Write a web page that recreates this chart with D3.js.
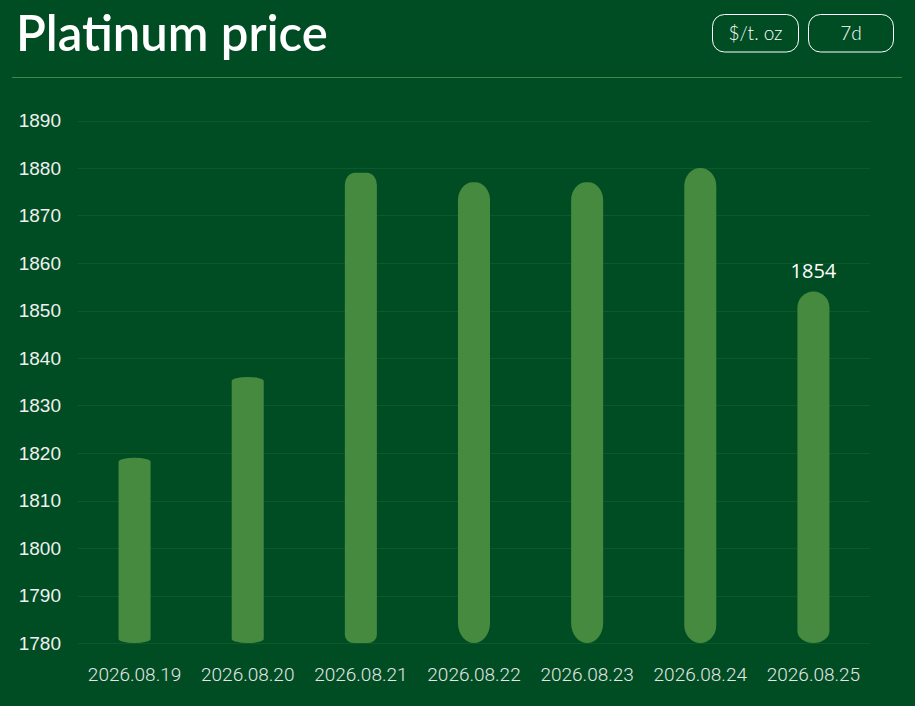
<!DOCTYPE html>
<html><head><meta charset="utf-8">
<script src="https://cdn.jsdelivr.net/npm/d3@7"></script>
<style>
html,body{margin:0;padding:0;background:#004d24;}
svg{display:block;}
</style></head>
<body>
<svg id="chart" width="915" height="706"></svg>
<script>
const title = "Platinum price";
const unitLabel = "$/t. oz";
const rangeLabel = "7d";
const dates = ["2026.08.19","2026.08.20","2026.08.21","2026.08.22","2026.08.23","2026.08.24","2026.08.25"];
const prices = [1819, 1836, 1879, 1877, 1877, 1880, 1854];
const yTicks = [1780,1790,1800,1810,1820,1830,1840,1850,1860,1870,1880,1890];
const labelledIndex = 6;

// style: corner radii per bar [topRy, bottomRy, topRx, bottomRx]
const barCorners = [[4,4,16,16],[4,4,16,16],[12,8,10,9],[18,20,15,16],[18,20,15,16],[18,18,16,16],[16,12,16,16]];

const W = 915, H = 706;
const svg = d3.select("#chart");
svg.append("rect").attr("width",W).attr("height",H).attr("fill","#004d24");

svg.append("text").attr("x",16).attr("y",51).text(title)
  .attr("fill","#ffffff").attr("font-family","Lato, 'Open Sans', sans-serif")
  .attr("font-weight",600).attr("font-size",49);

function button(x,w,label){
  svg.append("rect").attr("x",x).attr("y",14.5).attr("width",w).attr("height",37.5)
    .attr("rx",12).attr("fill","none").attr("stroke","#ffffff").attr("stroke-width",1);
  svg.append("text").attr("x",x+w/2).attr("y",39.5).attr("text-anchor","middle")
    .attr("fill","#ffffff").attr("font-family","Lato, sans-serif").attr("font-weight",300).attr("font-size",19).text(label);
}
button(712.5,86,unitLabel);
button(808.5,85,rangeLabel);

svg.append("line").attr("x1",12).attr("x2",902).attr("y1",77.5).attr("y2",77.5)
  .attr("stroke","#3f8a45").attr("stroke-width",1);

const x = d3.scaleBand().domain(dates).range([78,870]).paddingInner(0.717).paddingOuter(0.3585);
const y = d3.scaleLinear().domain([1780,1890]).range([643,120.5]);

// grid
svg.append("g").selectAll("line").data(yTicks).join("line")
  .attr("x1",78).attr("x2",870)
  .attr("y1",d=>Math.round(y(d))+0.5).attr("y2",d=>Math.round(y(d))+0.5)
  .attr("stroke","#0a5a2c").attr("stroke-width",1);

// y axis
const yAxis = d3.axisLeft(y).tickValues(yTicks).tickSize(0).tickPadding(0).tickFormat(d3.format("d"));
const gy = svg.append("g").attr("transform","translate(61,0)").call(yAxis);
gy.select(".domain").remove();
gy.selectAll("text").attr("fill","#f0f0f0").attr("font-family","'Liberation Sans', Arial, sans-serif").attr("font-size",19);

// x axis
const xAxis = d3.axisBottom(x).tickSize(0).tickPadding(0);
const gx = svg.append("g").attr("transform","translate(0,667)").call(xAxis);
gx.select(".domain").remove();
gx.selectAll("text").attr("fill","#e6e6e6").attr("font-family","Roboto, 'Liberation Sans', sans-serif").attr("font-size",19).attr("font-weight",300);

function barPath(x0,w,yt,yb,c){
  const [tRy,bRy,tRx,bRx]=c;
  return `M${x0},${yt+tRy}`+
    `A${tRx},${tRy} 0 0 1 ${x0+tRx},${yt}`+
    `L${x0+w-tRx},${yt}`+
    `A${tRx},${tRy} 0 0 1 ${x0+w},${yt+tRy}`+
    `L${x0+w},${yb-bRy}`+
    `A${bRx},${bRy} 0 0 1 ${x0+w-bRx},${yb}`+
    `L${x0+bRx},${yb}`+
    `A${bRx},${bRy} 0 0 1 ${x0},${yb-bRy}`+"Z";
}
svg.append("g").selectAll("path").data(prices).join("path")
  .attr("d",(d,i)=>barPath(x(dates[i]),x.bandwidth(),y(d),y(1780),barCorners[i]))
  .attr("fill","#468a3f");

svg.append("text").attr("x",x(dates[labelledIndex])+x.bandwidth()/2).attr("y",y(prices[labelledIndex])-14)
  .attr("text-anchor","middle").attr("fill","#ffffff")
  .attr("font-family","'Open Sans', 'Noto Sans', sans-serif").attr("font-size",20).text(prices[labelledIndex]);
</script>
</body></html>
